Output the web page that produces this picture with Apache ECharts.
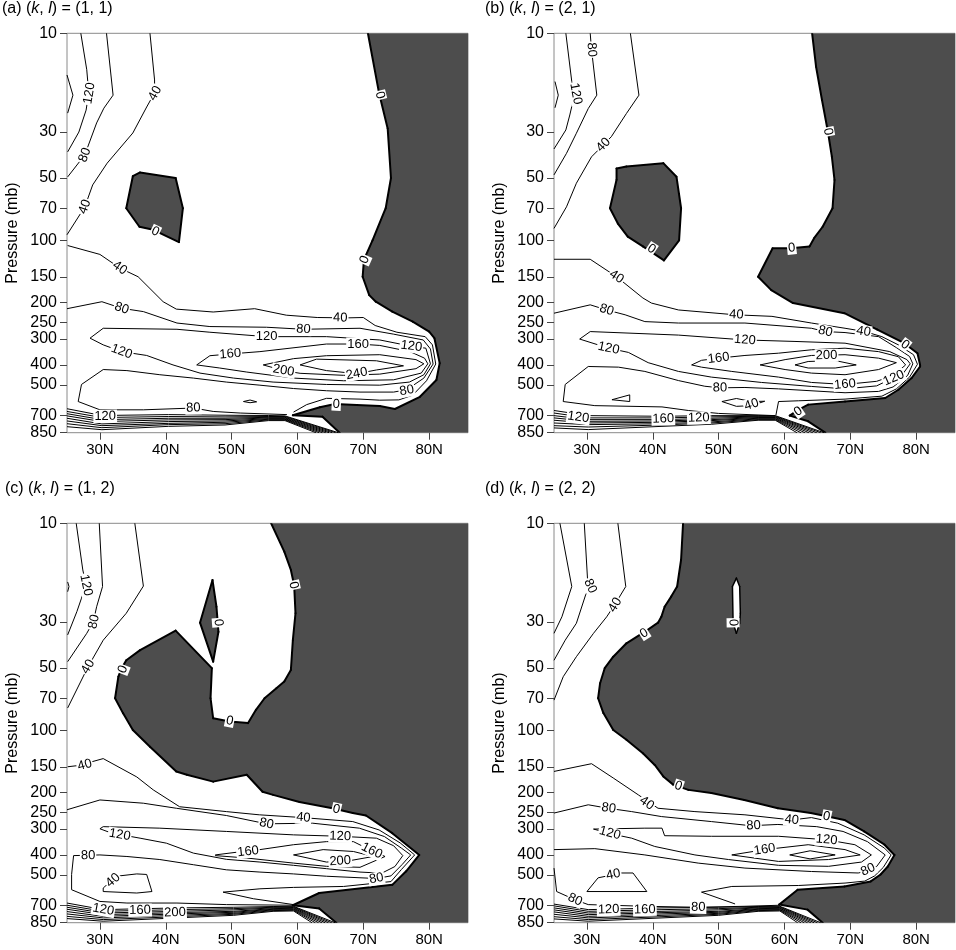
<!DOCTYPE html>
<html><head><meta charset="utf-8">
<script src="https://cdn.jsdelivr.net/npm/echarts@6.0.0/dist/echarts.min.js"></script>
<style>html,body{margin:0;padding:0;background:#fff}#c{width:956px;height:950px}</style>
</head><body><div id="c"></div>
<script>
// ---------- axis ticks ----------
const latTicks = [30, 40, 50, 60, 70, 80];
const presTicks = [10, 30, 50, 70, 100, 150, 200, 250, 300, 400, 500, 700, 850];
const latRange = [25, 85.9];
const presRange = [10, 850];
const panelTitles = ['(a) ({i|k}, {i|l}) = (1, 1)', '(b) ({i|k}, {i|l}) = (2, 1)', '(c) ({i|k}, {i|l}) = (1, 2)', '(d) ({i|k}, {i|l}) = (2, 2)'];

// ---------- panel (a) ----------
const aNeg = [
 [[36.1,47],[41.5,50],[42.6,70],[42.0,102],[38.1,89],[36.0,86],[34.0,70],[35.0,49]],
 [[70.7,10],[72.4,19.5],[73.7,28.8],[74.2,50],[73.4,70],[71.4,100],[70.1,124],[69.9,150],[70.9,184],[71.9,198],[74.4,221],[77.5,247],[80.0,276],[80.8,297],[81.6,392],[81.1,473],[78.6,570],[74.8,653],[72.5,632],[69.0,625],[65.7,618],[63.4,641],[59.3,700],[63.8,711],[66.4,850],[85.9,850],[85.9,10]]
];
const aPos = [];
const aLines = [
 [[25,15.9],[25.9,19.9],[25.1,24.3]],
 [[27.1,10],[28.0,15.0],[28.3,19.4],[27.9,23.5],[26.8,30],[25.1,37.4]],
 [[31.0,10],[32.0,19.9],[30.6,23],[29.5,27.1],[27.7,38.7],[25.1,49.4]],
 [[37.6,10],[38.3,16.8],[38.3,19.4],[37.1,22.7],[35.0,30.3],[31.1,42.4],[28.9,54],[27.7,69],[25,94]],
 [[25.1,106],[30.0,117],[33.0,136],[35.8,150],[39.6,198],[41.6,215],[47.2,222],[53.5,214],[58.3,230],[63.0,236],[67.5,237],[70.0,236],[71.8,258],[75.1,278],[79.4,292],[80.5,320],[81.0,396],[79.6,477],[77.5,560],[75.4,590],[72.5,592],[69.5,585],[64.4,580],[61.4,622],[59.4,676]],
 [[25.0,214],[30.3,198],[33.3,213],[36.6,221],[41.7,251],[46.7,261],[55.3,263],[60.9,269],[69.5,266],[74.6,284],[79.1,303],[80.2,335],[80.6,396],[79.2,463],[76.6,527],[74.6,541],[69.5,541],[64.4,533],[59.4,520],[54.3,501],[49.2,484],[44.2,463],[39.1,446],[34.1,426],[30.5,421],[27.2,497],[26.7,601],[30.0,659],[36.6,659],[44.2,646],[47.2,671],[51.3,683],[58.4,695]],
 [[80.2,395],[79.5,332],[77.3,325],[72.5,303],[64.4,292],[55.3,292],[46.7,278],[41.7,269],[30.5,266],[28.5,297],[30.5,320],[33.3,345],[37.1,360],[41.1,400],[45.2,438],[50.3,463],[56.3,484],[64.4,497],[72.5,501],[77.0,484],[79.2,446],[80.2,395]],
 [[44.7,400],[46.7,361],[49.8,354],[54.3,345],[64.4,317],[69.2,317],[72.5,322],[77.1,345],[79.3,371],[79.8,395],[78.8,438],[74.6,472],[67.0,477],[59.4,463],[52.3,433],[48.2,414],[44.7,400]],
 [[54.8,400],[59.4,373],[64.4,361],[72.5,357],[78.0,377],[79.2,395],[78.0,417],[72.5,443],[67.0,449],[60.4,439],[57.9,426],[54.8,400]],
 [[60.4,400],[62.9,375],[72.0,382],[76.1,404],[72.0,423],[69.0,441],[64.4,426],[60.4,400]],
 [[51.8,601],[52.8,591],[53.8,603],[52.8,609],[51.8,601]]
];
const aSurface = [
 [[25,651],[30.3,702],[40.4,695],[49,700],[55.6,702],[58.1,705],[66.2,850]],
 [[25,671],[30.3,718],[40.4,710],[49,713],[55.6,710],[58.1,710],[65.8,850]],
 [[25,688],[30.3,735],[40.4,724],[49,724],[55.6,716],[58.1,716],[65.3,850]],
 [[25,705],[30.3,751],[40.4,737],[49,735],[55.6,721],[58.1,721],[64.8,850]],
 [[25,724],[30.3,771],[40.4,751],[49,746],[55.6,727],[58.1,727],[64.3,850]],
 [[25,746],[30.3,786],[40.4,766],[49,757],[55.6,732],[58.1,732],[63.8,850]],
 [[25,769],[30.3,804],[40.4,777],[49,769],[55.6,737],[58.1,737],[63.3,850]],
 [[25,795],[30.3,822],[40.4,792],[49,780],[55.6,743],[58.1,743],[62.8,850]]
];
const aLabels = [
 [28.4,19.5,'120'],[27.7,38.7,'80'],[38.4,19.5,'40'],[27.7,68.8,'40'],[38.4,90.7,'0'],[72.5,19.9,'0'],[70.2,124,'0'],
 [33.0,136,'40'],[33.3,213,'80'],[66.5,237,'40'],[60.9,269,'80'],[55.3,292,'120'],[33.3,345,'120'],[49.8,354,'160'],
 [69.2,317,'160'],[77.3,325,'120'],[57.9,426,'200'],[69.0,441,'240'],[76.6,532,'80'],[65.9,620,'0'],[44.2,646,'80'],[30.8,708,'120']
];

// ---------- panel (b) ----------
const bNeg = [
 [[34.5,45],[36.0,44],[41.6,42.4],[43.6,49.3],[44.3,70],[44.0,100],[41.7,125],[40.0,115],[38.5,107],[36.2,96],[34.7,83],[33.5,70],[34.5,51]],
 [[64.2,10],[64.8,14.5],[65.7,21],[66.6,29.9],[67.2,39.4],[67.6,51.1],[67.3,70],[65.8,86],[64.5,97.7],[63.8,107],[61.0,109.3],[58.2,109.3],[56.0,150],[58.0,174],[61.3,201],[69.1,225],[74.1,270],[78.2,314],[80.2,351],[80.6,400],[80.6,407],[79.3,463],[77.3,527],[75.3,578],[69.2,601],[63.6,622],[62.1,659],[60.8,703],[63.6,749],[66.2,850],[85.9,850],[85.9,10]]
];
const bPos = [];
const bLines = [
 [[25.15,17.1],[25.65,19.9],[25.15,22.9]],
 [[26.8,10],[27.7,17.1],[28.1,19.9],[27.4,24.8],[26.8,29.3],[25.0,36.2]],
 [[30.5,10],[30.7,12],[31.5,19.9],[30.2,23.1],[28.4,30.4],[26.9,38],[25,48.3]],
 [[36.6,10],[37.9,19.9],[36.0,24.4],[33.7,31.6],[32.5,34.6],[30.7,39.5],[28.4,53],[26.9,68.9],[25,87.6]],
 [[25,123.5],[30.5,123.5],[34.5,150],[38.5,190],[39.8,201],[43.9,217],[52.5,229],[58.1,233],[64.1,251],[69.2,266],[72.2,276],[74.8,292],[77.3,320],[79.6,357],[80.2,397],[79.0,458],[77.0,522],[74.8,566],[69.2,585],[62.1,596],[59.1,601],[58.7,700]],
 [[25,225],[30.5,205],[33.0,217],[35.8,229],[38.8,247],[43.9,251],[54.0,251],[64.1,266],[66.2,276],[69.2,279],[74.3,292],[77.0,330],[79.0,364],[79.5,395],[78.7,450],[76.5,511],[74.3,537],[69.2,545],[59.1,522],[54.0,514],[50.2,516],[47.9,507],[43.9,476],[38.8,430],[34.8,410],[30.2,407],[26.7,497],[26.4,601],[31.2,629],[41.4,638],[45.4,664],[50.0,686],[58.6,703]],
 [[28.9,300],[30.5,276],[43.9,287],[54.0,303],[61.6,308],[69.2,314],[76.0,345],[78.6,377],[79.1,395],[78.0,441],[76.0,470],[74.0,505],[69.2,522],[64.1,508],[56.5,486],[48.9,458],[43.9,430],[39.3,390],[36.3,348],[33.3,332],[31.7,320],[28.9,300]],
 [[45.9,400],[47.4,380],[50.0,371],[54.0,360],[59.1,351],[64.1,338],[69.2,332],[74.3,345],[77.3,365],[78.4,400],[76.5,450],[74.0,480],[69.2,497],[64.1,486],[59.1,458],[52.0,430],[47.4,410],[45.9,400]],
 [[56.3,400],[60.1,377],[64.1,360],[69.2,357],[74.3,371],[77.0,390],[74.3,421],[69.2,446],[64.1,438],[60.1,421],[56.3,400]],
 [[61.6,400],[63.6,385],[67.7,381],[70.9,400],[67.7,414],[63.6,414],[61.6,400]],
 [[33.8,589],[36.5,558],[36.5,601],[33.8,589]],
 [[50.5,601],[52.7,581],[55.0,601],[57.0,599],[55.0,629],[52.7,634],[50.5,601]]
];
const bSurface = [
 [[25,664],[30.2,703],[41.4,708],[48.9,703],[56.0,703],[58.6,703],[66.0,850]],
 [[25,683],[30.2,721],[41.4,721],[48.9,713],[56.0,708],[58.6,708],[65.5,850]],
 [[25,703],[30.2,735],[41.4,735],[48.9,724],[56.0,713],[58.6,713],[64.9,850]],
 [[25,721],[30.2,749],[41.4,746],[48.9,735],[56.0,718],[58.6,718],[64.3,850]],
 [[25,740],[30.2,763],[41.4,757],[48.9,743],[56.0,724],[58.6,724],[63.7,850]],
 [[25,763],[30.2,777],[41.4,769],[48.9,754],[56.0,729],[58.6,729],[63.1,850]],
 [[25,786],[30.2,798],[41.4,780],[48.9,763],[56.0,735],[58.6,735],[62.5,850]],
 [[25,806],[30.2,821],[41.4,792],[48.9,774],[56.0,740],[58.6,740],[61.9,850]]
];
const bLabels = [
 [30.7,12.0,'80'],[28.3,19.6,'120'],[32.5,34.6,'40'],[66.6,29.9,'0'],[39.8,110,'0'],[61.1,109,'0'],[34.5,150,'40'],
 [33.0,217,'80'],[52.7,229,'40'],[66.2,276,'80'],[72.0,276,'40'],[78.3,320,'0'],[54.0,303,'120'],[33.3,332,'120'],
 [50.0,371,'160'],[66.4,360,'200'],[69.2,497,'160'],[76.6,463,'120'],[50.2,516,'80'],[55.0,622,'40'],[62.1,671,'0'],
 [28.7,716,'120'],[41.6,729,'160'],[47.0,721,'120']
];

// ---------- panel (c) ----------
const cNeg = [
 [[56.0,10],[58.0,13.7],[59.0,16.8],[59.5,19.9],[59.7,27.2],[59.3,36.7],[59.0,51.1],[58.0,58.1],[56.8,62.6],[55.0,70],[53.7,79.6],[52.5,92.3],[49.7,90.7],[47.2,87.5],[46.8,70],[47.0,50.1],[41.5,33.0],[36.1,41.0],[34.0,45.9],[33.3,50.1],[32.8,55.1],[32.3,70],[33.5,82.6],[35.0,99.7],[37.6,120],[41.6,158],[43.2,164],[47.2,177],[52.3,164],[54.7,198],[56.3,205],[60.3,222],[65.3,238],[68.4,251],[70.4,258],[74.4,314],[78.5,400],[76.5,480],[74.4,558],[63.3,611],[59.3,700],[63.3,725],[65.9,850],[85.9,850],[85.9,10]],
 [[47.1,18.8],[47.7,25.3],[48.0,33.4],[47.2,46.6],[45.2,30.2]]
];
const cPos = [];
const cLines = [
 [[25.1,19.2],[25.3,20.2],[25.1,21.4]],
 [[26.4,10],[27.4,16.8],[27.9,19.9],[27.2,23.0],[26.5,26.7],[25.1,34.6]],
 [[29.9,10],[30.4,20.2],[29.5,25.3],[29.0,29.9],[28.0,34.0],[25.1,46.6]],
 [[35.3,10],[36.6,20.1],[34.0,27.2],[30.5,36.7],[28.2,49.3],[25.1,78]],
 [[25.1,150],[26.7,148],[30.5,137],[35.6,168],[38.1,194],[42.1,234],[49.2,247],[54.2,256],[60.8,264],[68.4,276],[72.4,303],[75.6,350],[77.8,400],[75.8,470],[74.2,538],[67.0,568],[59.4,574],[54.3,583],[48.7,605],[53.3,651],[59.4,695]],
 [[25,242],[30,217],[36.6,225],[41.6,238],[49.2,258],[55.3,283],[62.3,281],[69.4,297],[73.2,326],[75.8,371],[77.2,400],[75.9,445],[74.2,505],[72.0,520],[64.4,507],[59.4,494],[54.3,484],[49.2,472],[44.2,446],[39.1,421],[34.1,407],[30.0,400],[26.0,403],[25.7,497],[25.7,589],[30.0,671],[34.1,683],[41.7,683],[49.2,695],[59.4,700]],
 [[30.0,299],[30.5,292],[39.1,297],[49.2,308],[59.4,320],[66.5,325],[72.0,332],[74.6,361],[76.0,403],[74.8,455],[72.8,490],[69.5,484],[64.4,466],[59.4,449],[54.3,433],[49.2,420],[44.2,392],[40.1,351],[36.1,332],[33.3,320],[31.8,314],[30.0,299]],
 [[47.5,400],[50.8,388],[54.3,377],[59.4,357],[64.4,345],[68.5,345],[71.3,382],[73.3,407],[73.3,411],[69.5,459],[64.4,454],[59.4,438],[52.3,414],[47.5,403]],
 [[59.4,400],[63.9,377],[68.5,385],[71.5,407],[68.0,426],[64.4,433],[59.4,400]],
 [[30.5,578],[32.5,507],[35.6,494],[37.1,497],[37.9,601],[35.6,611],[30.5,601],[30.5,578]]
];
const cSurface = [
 [[25,683],[30.5,735],[41.7,721],[50.3,716],[56.3,710],[59.4,708],[65.7,850]],
 [[25,700],[30.5,749],[41.7,735],[50.3,727],[56.3,716],[59.4,713],[65.2,850]],
 [[25,716],[30.5,763],[41.7,749],[50.3,737],[56.3,721],[59.4,718],[64.7,850]],
 [[25,732],[30.5,777],[41.7,760],[50.3,749],[56.3,727],[59.4,724],[64.2,850]],
 [[25,751],[30.5,792],[41.7,771],[50.3,757],[56.3,732],[59.4,729],[63.7,850]],
 [[25,771],[30.5,806],[41.7,783],[50.3,766],[56.3,737],[59.4,735],[63.2,850]],
 [[25,792],[30.5,821],[41.7,795],[50.3,774],[56.3,743],[59.4,740],[62.7,850]],
 [[25,812],[30.5,836],[41.7,806],[50.3,783],[56.3,749],[59.4,746],[62.2,850]]
];
const cLabels = [
 [27.9,19.9,'120'],[29.1,29.9,'80'],[28.2,49.3,'40'],[33.5,50.8,'0'],[48.0,30.2,'0'],[59.4,19.9,'0'],[49.7,90,'0'],
 [27.7,147,'40'],[65.9,241,'0'],[60.9,264,'40'],[55.3,283,'80'],[33.0,320,'120'],[66.5,325,'120'],[52.5,385,'160'],
 [71.3,382,'160'],[66.5,428,'200'],[28.2,403,'80'],[72.0,520,'80'],[32.0,530,'40'],[30.5,735,'120'],[36.1,740,'160'],[41.4,760,'200']
];

// ---------- panel (d) ----------
const dNeg = [
 [[44.6,10],[44.3,15.0],[43.7,20.2],[42.8,22.6],[41.8,25.3],[41.3,28.3],[40.8,30.2],[38.8,33.4],[36.0,38.0],[34.0,44.1],[32.7,50.1],[32.0,59.2],[31.7,70],[32.5,82.6],[34.0,99.7],[36.0,111],[38.5,129],[40.3,147],[41.6,167],[43.1,183],[45.4,194],[48.9,201],[53.9,217],[59.0,238],[64.0,251],[66.6,261],[69.1,271],[72.1,308],[75.2,357],[76.7,400],[75.7,455],[74.6,497],[73.1,537],[69.1,568],[62.0,589],[59.2,695],[63.5,735],[65.8,850],[85.9,850],[85.9,10]]
];
const dPos = [
 [[52.7,18.4],[53.2,20.2],[53.3,27.2],[53.2,30.4],[52.7,34.0],[52.2,30.4],[52.1,20.2]]
];
const dLines = [
 [[25.9,10],[27.7,20.2],[26.2,28.3],[25,34.0]],
 [[29.6,10],[30.1,18.8],[30.5,20.1],[29.8,22.2],[28.4,30.4],[26.7,36.7],[25,45.9]],
 [[34.7,10],[35.9,20.2],[34.2,24.8],[33.0,28.3],[31.0,34.0],[28.4,44.1],[26.4,55.1],[25,71.5]],
 [[25,158],[30.7,145],[34.0,170],[37.8,205],[40.8,238],[46.4,247],[54.0,256],[61.1,271],[64.1,264],[68.1,281],[72.1,320],[75.2,371],[76.2,400],[75.0,460],[73.7,505],[72.2,535],[69.2,547],[62.1,562],[52.0,568],[47.4,605],[52.5,690]],
 [[25,251],[30.2,229],[33.2,238],[36.8,247],[41.3,261],[48.9,276],[54.9,289],[59.0,285],[64.9,292],[68.9,308],[72.6,345],[75.3,400],[74.0,455],[72.4,480],[71.2,489],[64.1,481],[54.0,463],[46.9,438],[38.8,400],[31.2,373],[25,377]],
 [[31.0,300],[38.8,297],[41.4,297],[41.8,323],[48.9,325],[59.1,325],[66.4,338],[70.7,357],[73.2,400],[71.7,433],[66.7,454],[59.1,449],[51.5,421],[46.4,400],[40.3,364],[36.8,332],[33.8,317],[31.0,300]],
 [[52.0,400],[57.0,377],[63.6,357],[69.2,377],[71.5,400],[66.7,421],[59.1,430],[52.0,400]],
 [[60.8,400],[63.9,382],[67.7,400],[63.9,418],[60.8,400]],
 [[25,463],[25.4,601],[28.2,659],[30.2,695],[38.8,708],[46.9,716],[54.0,708],[59.3,700]],
 [[30.0,601],[31.7,516],[35.3,489],[37.0,489],[39.1,601],[30.0,601]]
];
const dSurface = [
 [[25,691],[30.2,735],[41.4,721],[50.0,716],[56.0,710],[59.3,708],[65.5,850]],
 [[25,705],[30.2,749],[41.4,735],[50.0,727],[56.0,716],[59.3,713],[65.0,850]],
 [[25,721],[30.2,763],[41.4,749],[50.0,737],[56.0,721],[59.3,718],[64.5,850]],
 [[25,737],[30.2,777],[41.4,760],[50.0,749],[56.0,727],[59.3,724],[64.0,850]],
 [[25,754],[30.2,792],[41.4,771],[50.0,757],[56.0,732],[59.3,729],[63.5,850]],
 [[25,774],[30.2,806],[41.4,783],[50.0,766],[56.0,737],[59.3,735],[63.0,850]],
 [[25,795],[30.2,821],[41.4,795],[50.0,774],[56.0,743],[59.3,740],[62.5,850]],
 [[25,815],[30.2,836],[41.4,806],[50.0,783],[56.0,749],[59.3,746],[62.0,850]]
];
const dLabels = [
 [30.5,20.1,'80'],[34.3,24.8,'40'],[38.7,34.0,'0'],[52.2,30.2,'0'],[43.9,186,'0'],[39.1,225,'40'],[33.3,238,'80'],
 [55.3,289,'80'],[61.1,271,'40'],[66.4,261,'0'],[33.5,314,'120'],[66.4,338,'120'],[57.0,377,'160'],[72.7,472,'80'],
 [34.0,497,'40'],[28.2,659,'80'],[33.3,735,'120'],[38.8,735,'160'],[46.9,716,'80']
];

// ---------- assembly ----------
const FONT = '"Liberation Sans", Arial, Helvetica, sans-serif';
const panels = [
 {neg:aNeg, pos:aPos, lines:aLines.concat(aSurface), labels:aLabels},
 {neg:bNeg, pos:bPos, lines:bLines.concat(bSurface), labels:bLabels},
 {neg:cNeg, pos:cPos, lines:cLines.concat(cSurface), labels:cLabels},
 {neg:dNeg, pos:dPos, lines:dLines.concat(dSurface), labels:dLabels}
];
const layout = [
 {left:67, top:33.3, tl:2, tt:1},
 {left:554, top:33.3, tl:485, tt:1},
 {left:67, top:523.3, tl:5, tt:481},
 {left:554, top:523.3, tl:485, tt:481}
];
const GW = 401, GH = 399.4;
const L = Math.log10;
const lp = arr => arr.map(pt => [pt[0], L(pt[1])]);
const onEdge = pt => pt[0] <= latRange[0] + 0.01 || pt[0] >= latRange[1] - 0.01 || pt[1] <= presRange[0] + 0.01 || pt[1] >= presRange[1] - 0.01;

const grids = [], xAxes = [], yAxes = [], series = [], titles = [];
panels.forEach((pn, gi) => {
  const g = layout[gi];
  grids.push({left:g.left, top:g.top, width:GW, height:GH, show:true, borderColor:'#8a8a8a', borderWidth:1, backgroundColor:'transparent'});
  titles.push({text:panelTitles[gi], left:g.tl, top:g.tt, padding:0,
    textStyle:{fontSize:16, fontWeight:'normal', color:'#000', fontFamily:FONT,
      rich:{i:{fontStyle:'italic', fontSize:16, color:'#000', fontFamily:FONT}}}});
  xAxes.push({gridIndex:gi, type:'value', min:latRange[0], max:latRange[1],
    axisLine:{show:false}, splitLine:{show:false},
    axisTick:{show:true, length:7, lineStyle:{color:'#444'}, customValues:latTicks},
    axisLabel:{customValues:latTicks, formatter:v => Math.round(v) + 'N', fontSize:15, color:'#000', margin:10, fontFamily:FONT}});
  yAxes.push({gridIndex:gi, type:'value', min:L(presRange[0]), max:L(presRange[1]), inverse:true,
    name:'Pressure (mb)', nameLocation:'middle', nameGap:46,
    nameTextStyle:{fontSize:16, color:'#000', fontFamily:FONT},
    axisLine:{show:false}, splitLine:{show:false},
    axisTick:{show:true, length:7, lineStyle:{color:'#444'}, customValues:presTicks.map(L)},
    axisLabel:{customValues:presTicks.map(L), formatter:v => String(Math.round(Math.pow(10, v))), fontSize:16, color:'#000', margin:10, fontFamily:FONT}});

  const fill = (polys, color, lw, z) => ({
    type:'custom', xAxisIndex:gi, yAxisIndex:gi, clip:true, silent:true, z:z, animation:false,
    data: polys.map(p => [p[0][0], L(p[0][1])]),
    encode:{x:0, y:1},
    renderItem:(params, api) => {
      const poly = polys[params.dataIndex];
      const pts = poly.map(pt => api.coord([pt[0], L(pt[1])]));
      const ch = [{type:'polygon', shape:{points:pts}, style:{fill:color, stroke:null}}];
      for (let i = 0; i < poly.length; i++) {
        const j = (i + 1) % poly.length;
        if (onEdge(poly[i]) && onEdge(poly[j])) continue;
        ch.push({type:'line', shape:{x1:pts[i][0], y1:pts[i][1], x2:pts[j][0], y2:pts[j][1]},
          style:{stroke:'#000', lineWidth:lw, lineCap:'round'}});
      }
      return {type:'group', children:ch};
    }
  });
  series.push(fill(pn.neg, '#4d4d4d', 2, 2));
  if (pn.pos.length) series.push(fill(pn.pos, '#ffffff', 1.5, 3));

  pn.lines.forEach(line => {
    series.push({type:'line', xAxisIndex:gi, yAxisIndex:gi, data:lp(line), symbol:'none', showSymbol:false,
      lineStyle:{color:'#000', width:1}, silent:true, animation:false, z:4, clip:true});
  });

  const allShapes = pn.lines.concat(pn.neg.map(p => p.concat([p[0]]))).concat(pn.pos.map(p => p.concat([p[0]])));
  series.push({type:'custom', xAxisIndex:gi, yAxisIndex:gi, silent:true, z:6, animation:false,
    data: pn.labels.map(l => [l[0], L(l[1])]), encode:{x:0, y:1},
    renderItem:(params, api) => {
      const lab = pn.labels[params.dataIndex];
      const c = api.coord([lab[0], L(lab[1])]);
      let best = Infinity, ang = 0;
      allShapes.forEach(sh => {
        const pts = sh.map(pt => api.coord([pt[0], L(pt[1])]));
        for (let i = 0; i < pts.length - 1; i++) {
          const ax = pts[i][0], ay = pts[i][1], bx = pts[i+1][0], by = pts[i+1][1];
          const dx = bx - ax, dy = by - ay, len2 = dx*dx + dy*dy;
          if (len2 < 1e-6) continue;
          let t = ((c[0]-ax)*dx + (c[1]-ay)*dy) / len2; t = Math.max(0, Math.min(1, t));
          const qx = ax + t*dx - c[0], qy = ay + t*dy - c[1], d = qx*qx + qy*qy;
          if (d < best) { best = d; ang = Math.atan2(-dy, dx); }
        }
      });
      if (ang > Math.PI/2) ang -= Math.PI;
      if (ang < -Math.PI/2) ang += Math.PI;
      return {type:'text', x:c[0], y:c[1], rotation:ang,
        style:{text:lab[2], fill:'#000', font:'13px ' + FONT, align:'center', verticalAlign:'middle',
          backgroundColor:'#fff', padding:[0,1]}};
    }});
});

const chart = echarts.init(document.getElementById('c'), null, {renderer:'canvas'});
chart.setOption({animation:false, backgroundColor:'#fff', title:titles, grid:grids, xAxis:xAxes, yAxis:yAxes, series:series});
</script></body></html>
